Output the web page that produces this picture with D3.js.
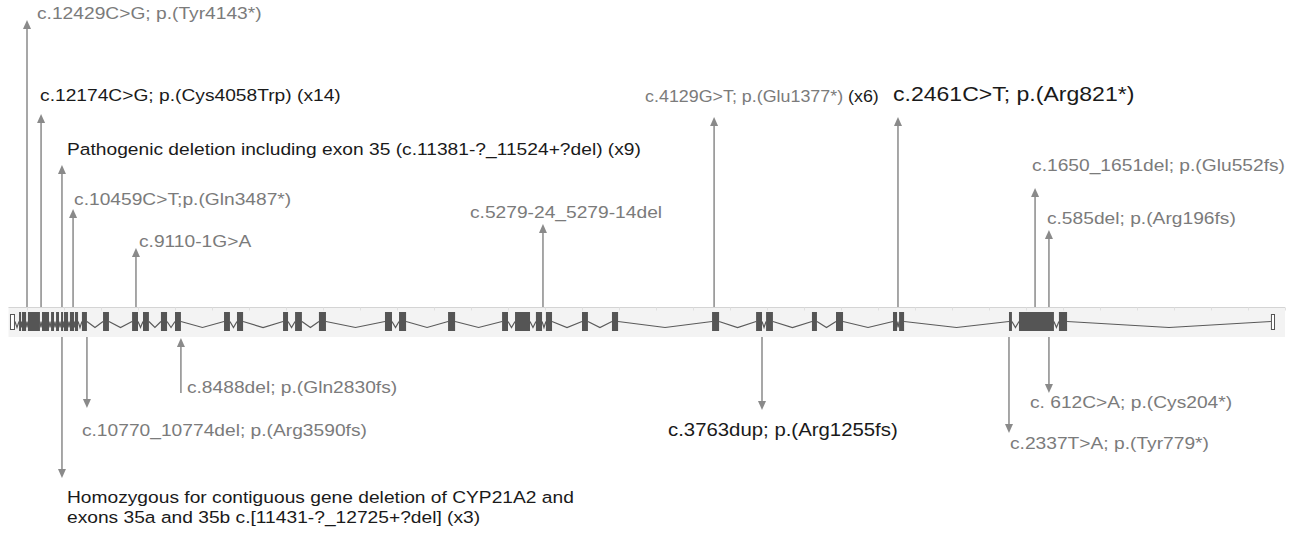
<!DOCTYPE html>
<html>
<head>
<meta charset="utf-8">
<script src="https://cdn.jsdelivr.net/npm/d3@7"></script>
<style>
  body { margin: 0; background: #fff; }
  svg { display: block; }
</style>
</head>
<body>
<div id="chart"></div>
<script>
// gene model, schematic position units along the track
var exonStart = [-0.92, -0.43, -0.27, 0.05, 0.81, 1.30, 1.57, 1.84, 2.00, 2.32, 2.59, 2.97, 4.11, 5.68, 6.27, 7.24, 8.00,
  10.65, 11.35, 13.84, 14.49, 15.78, 19.35, 20.11, 22.76, 25.68, 26.38, 27.51, 28.05, 30.00, 31.62, 37.03, 39.41, 39.95,
  42.43, 43.73, 46.81, 47.14, 53.08, 53.62, 55.78, 67.24];
var exonEnd = [-0.65, -0.32, -0.05, 0.70, 1.19, 1.46, 1.73, 1.95, 2.22, 2.54, 2.76, 3.24, 4.43, 6.00, 6.59, 7.57, 8.32,
  10.97, 11.68, 14.11, 14.86, 16.16, 19.73, 20.49, 23.14, 26.00, 27.19, 27.84, 28.38, 30.32, 31.95, 37.41, 39.73, 40.32,
  42.70, 44.11, 47.03, 47.41, 53.24, 55.51, 56.22, 67.46];
var utrExons = [0, 41];

// variants
var variantLabel = [
  "c.12429C>G; p.(Tyr4143*)",
  "c.12174C>G; p.(Cys4058Trp)",
  "Pathogenic deletion including exon 35 (c.11381-?_11524+?del)",
  "c.10459C>T;p.(Gln3487*)",
  "c.9110-1G>A",
  "c.5279-24_5279-14del",
  "c.4129G>T; p.(Glu1377*)",
  "c.2461C>T; p.(Arg821*)",
  "c.1650_1651del; p.(Glu552fs)",
  "c.585del; p.(Arg196fs)",
  "Homozygous for contiguous gene deletion of CYP21A2 and\nexons 35a and 35b c.[11431-?_12725+?del]",
  "c.10770_10774del; p.(Arg3590fs)",
  "c.8488del; p.(Gln2830fs)",
  "c.3763dup; p.(Arg1255fs)",
  "c.2337T>A; p.(Tyr779*)",
  "c. 612C>A; p.(Cys204*)"
];
var variantCount = ["", " (x14)", " (x9)", "", "", "", " (x6)", "", "", "", " (x3)", "", "", "", "", ""];
var variantRecurrent = [false, true, true, false, false, false, false, true, false, false, true, false, false, true, false, false];
var variantPos = [0.00, 0.76, 1.89, 2.49, 5.89, 27.89, 37.14, 47.08, 54.49, 55.24, 1.89, 3.24, 8.32, 39.73, 53.08, 55.24];
var variantSide = ["up", "up", "up", "up", "up", "up", "up", "up", "up", "up", "down", "down", "down", "down", "down", "down"];
var variantReach = [28.7, 19.3, 14.2, 9.8, 5.9, 8.3, 19.0, 19.0, 11.9, 7.7, 14.1, 7.1, 5.6, 7.3, 9.6, 5.6];

// label placement relative to arrow tip
var labelDx = [10, -1, 5, 1, 3, -73, -69, -5, -3, -2, 5, -5, 6, -94, 1, -19];
var labelDy = [-1, -13, -10, -4, -1, -6, -15, -16, -17, -6, 25, 28, 0, 26, 16, 15];
var labelScale = [1, 1, 1, 1, 1, 1, 0.93, 1.2, 1, 1, 1, 1, 1, 1.06, 1, 1];
var headAtGene = [false, false, false, false, false, false, false, false, false, false, false, false, true, false, false, false];

var width = 1293, height = 535;
var trackTop = 307, trackBottom = 337;
var exonTop = 312, exonBottom = 331, midY = 321.5, dip = 6;
var fontSize = 17, stretch = 1.13, lineGap = 20;
var arrowColor = "#8a8a8a";

var svg = d3.select("#chart").append("svg")
  .attr("width", width)
  .attr("height", height)
  .style("font-family", "'Liberation Sans', Arial, Helvetica, sans-serif");

var x = d3.scaleLinear().domain([-1, 68]).range([8.5, 1285]);
var yUp = d3.scaleLinear().domain([0, 30]).range([trackTop, 7]);
var yDown = d3.scaleLinear().domain([0, 20]).range([trackBottom, 537]);
var tone = d3.scaleOrdinal().domain([false, true]).range(["#7b7b7b", "#1a1a1a"]);

// grey band behind the gene
svg.append("rect")
  .attr("x", x.range()[0]).attr("y", trackTop)
  .attr("width", x.range()[1] - x.range()[0]).attr("height", trackBottom - trackTop)
  .style("fill", "#f3f3f3");

svg.append("line")
  .attr("x1", x.range()[0]).attr("x2", x.range()[1])
  .attr("y1", trackTop + 0.5).attr("y2", trackTop + 0.5)
  .style("stroke", "#d4d4d4");

var ruler = svg.append("g")
  .attr("transform", "translate(0," + (trackTop + 0.5) + ")")
  .call(d3.axisBottom(x).ticks(34).tickSize(3).tickFormat(""));
ruler.select(".domain").remove();
ruler.selectAll("line").style("stroke", "#e0e0e0");

// introns as chevrons between consecutive exons
var introns = d3.range(exonStart.length - 1).map(function (i) {
  return [exonEnd[i], exonStart[i + 1]];
});
svg.append("g")
  .selectAll("path")
  .data(introns)
  .enter()
  .append("path")
  .attr("d", function (d) {
    var a = x(d[0]), b = x(d[1]);
    return "M" + a + "," + midY + "L" + ((a + b) / 2) + "," + (midY + dip) + "L" + b + "," + midY;
  })
  .style("fill", "none")
  .style("stroke", "#5a5a5a")
  .style("stroke-width", 1.2);

// exons
function isUtr(i) { return utrExons.indexOf(i) >= 0; }
svg.append("g")
  .selectAll("rect")
  .data(exonStart)
  .enter()
  .append("rect")
  .attr("x", function (d, i) { return x(d) + (isUtr(i) ? 0.5 : 0); })
  .attr("width", function (d, i) { return Math.max(1, x(exonEnd[i]) - x(d) - (isUtr(i) ? 1 : 0)); })
  .attr("y", function (d, i) { return isUtr(i) ? exonTop + 2.5 : exonTop; })
  .attr("height", function (d, i) { return isUtr(i) ? exonBottom - exonTop - 4 : exonBottom - exonTop; })
  .style("fill", function (d, i) { return isUtr(i) ? "#fff" : "#555"; })
  .style("stroke", function (d, i) { return isUtr(i) ? "#555" : "none"; })
  .style("stroke-width", 1);

// arrows
var variants = variantLabel.map(function (label, i) {
  var up = variantSide[i] === "up";
  var base = up ? trackTop : trackBottom;
  var tip = up ? yUp(variantReach[i]) : yDown(variantReach[i]);
  return { i: i, label: label, up: up, x: x(variantPos[i]), base: base, tip: tip };
});

var headLen = 9, headHalf = 4;
var arrows = svg.append("g")
  .selectAll("g")
  .data(variants)
  .enter()
  .append("g");

arrows.append("line")
  .attr("x1", function (d) { return d.x; })
  .attr("x2", function (d) { return d.x; })
  .attr("y1", function (d) {
    if (headAtGene[d.i]) return d.base + (d.up ? -headLen : headLen);
    return d.base;
  })
  .attr("y2", function (d) {
    if (headAtGene[d.i]) return d.tip;
    return d.tip + (d.up ? headLen : -headLen);
  })
  .style("stroke", arrowColor)
  .style("stroke-width", 1.5);

arrows.append("path")
  .attr("d", function (d) {
    var p = headAtGene[d.i] ? d.base + (d.up ? -1 : 1) : d.tip;
    // direction the head points
    var s = headAtGene[d.i] ? (d.up ? 1 : -1) : (d.up ? -1 : 1);
    var back = p - s * headLen;
    return "M" + d.x + "," + p + "L" + (d.x - headHalf) + "," + back + "L" + (d.x + headHalf) + "," + back + "Z";
  })
  .style("fill", arrowColor);

// labels
var labels = svg.append("g")
  .selectAll("text")
  .data(variants)
  .enter()
  .append("text")
  .attr("transform", function (d) {
    return "translate(" + (d.x + labelDx[d.i]) + "," + (d.tip + labelDy[d.i]) + ") scale(" + stretch + ",1)";
  })
  .style("font-size", function (d) { return (fontSize * labelScale[d.i]) + "px"; });

labels.each(function (d) {
  var t = d3.select(this);
  var lines = d.label.split("\n");
  lines.forEach(function (line, k) {
    t.append("tspan")
      .attr("x", 0)
      .attr("dy", k === 0 ? 0 : lineGap)
      .style("fill", tone(variantRecurrent[d.i]))
      .text(line);
  });
  if (variantCount[d.i]) {
    t.append("tspan")
      .style("fill", "#1a1a1a")
      .text(variantCount[d.i]);
  }
});
</script>
</body>
</html>
